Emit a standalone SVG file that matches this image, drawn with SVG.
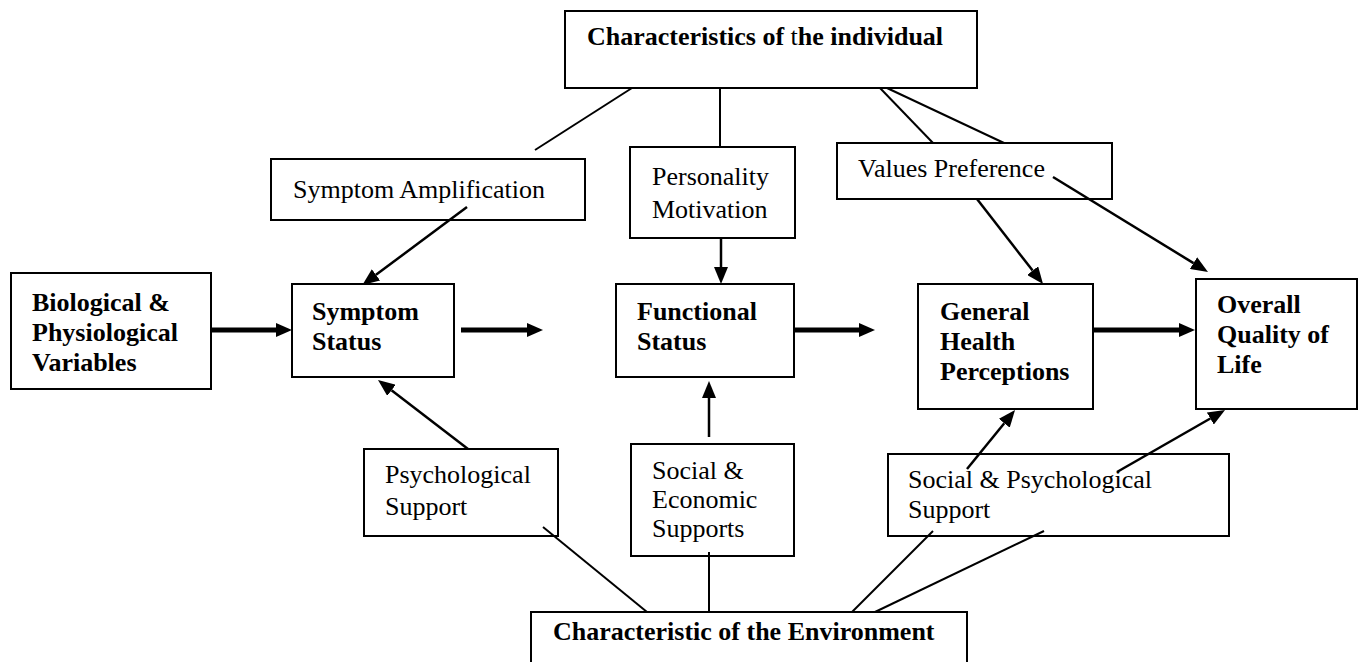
<svg xmlns="http://www.w3.org/2000/svg" width="1364" height="662" viewBox="0 0 1364 662">
<style>
.box{fill:#fff;stroke:#000;stroke-width:2}
.t{font-family:"Liberation Serif","Times New Roman",serif;font-size:26px;fill:#000}
.b{font-weight:bold}
.ln{stroke:#000;stroke-width:2;fill:none}
.ar{stroke:#000;stroke-width:2.5;fill:none;marker-end:url(#ah)}
.tk{stroke:#000;stroke-width:5;fill:none;marker-end:url(#th)}
</style>
<defs>
<marker id="ah" markerUnits="userSpaceOnUse" viewBox="0 0 17 14" refX="0" refY="7" markerWidth="17" markerHeight="14" orient="auto">
<path d="M0,0 L17,7 L0,14 z" fill="#000"/>
</marker>
<marker id="th" markerUnits="userSpaceOnUse" viewBox="0 0 16 16" refX="0" refY="8" markerWidth="16" markerHeight="16" orient="auto">
<path d="M0,1 L16,8 L0,15 z" fill="#000"/>
</marker>
</defs>
<rect width="1364" height="662" fill="#fff"/>
<g id="individual">
<rect class="box" x="565" y="11" width="412" height="77"/>
<text class="t b" x="587" y="45">Characteristics of <tspan font-weight="normal">t</tspan>he individual</text>
</g>
<g id="symptom-amplification">
<rect class="box" x="271" y="159" width="314" height="61"/>
<text class="t" x="293" y="198">Symptom Amplification</text>
</g>
<g id="personality">
<rect class="box" x="630" y="147" width="165" height="91"/>
<text class="t" x="652" y="185">Personality</text>
<text class="t" x="652" y="218">Motivation</text>
</g>
<g id="values">
<rect class="box" x="837" y="143" width="275" height="56"/>
<text class="t" x="858" y="177">Values Preference</text>
</g>
<g id="biological">
<rect class="box" x="11" y="273" width="200" height="116"/>
<text class="t b" x="32" y="311">Biological &amp;</text>
<text class="t b" x="32" y="341">Physiological</text>
<text class="t b" x="32" y="371">Variables</text>
</g>
<g id="symptom-status">
<rect class="box" x="292" y="284" width="162" height="93"/>
<text class="t b" x="312" y="320">Symptom</text>
<text class="t b" x="312" y="350">Status</text>
</g>
<g id="functional-status">
<rect class="box" x="616" y="284" width="178" height="93"/>
<text class="t b" x="637" y="320">Functional</text>
<text class="t b" x="637" y="350">Status</text>
</g>
<g id="general-health">
<rect class="box" x="918" y="284" width="175" height="125"/>
<text class="t b" x="940" y="320">General</text>
<text class="t b" x="940" y="350">Health</text>
<text class="t b" x="940" y="380">Perceptions</text>
</g>
<g id="overall-qol">
<rect class="box" x="1196" y="279" width="161" height="130"/>
<text class="t b" x="1217" y="313">Overall</text>
<text class="t b" x="1217" y="343">Quality of</text>
<text class="t b" x="1217" y="373">Life</text>
</g>
<g id="psychological-support">
<rect class="box" x="364" y="449" width="194" height="87"/>
<text class="t" x="385" y="483">Psychological</text>
<text class="t" x="385" y="515">Support</text>
</g>
<g id="social-economic">
<rect class="box" x="631" y="444" width="163" height="112"/>
<text class="t" x="652" y="479">Social &amp;</text>
<text class="t" x="652" y="508">Economic</text>
<text class="t" x="652" y="537">Supports</text>
</g>
<g id="social-psychological">
<rect class="box" x="888" y="454" width="341" height="82"/>
<text class="t" x="908" y="488">Social &amp; Psychological</text>
<text class="t" x="908" y="518">Support</text>
</g>
<g id="environment">
<rect class="box" x="531" y="612" width="436" height="60"/>
<text class="t b" x="553" y="640">Characteristic of the Environment</text>
</g>
<g id="connectors">
<line class="ln" x1="632" y1="88" x2="535" y2="150"/>
<line class="ln" x1="720" y1="88" x2="720" y2="147"/>
<line class="ln" x1="880" y1="88" x2="933" y2="143"/>
<line class="ln" x1="887" y1="88" x2="1004" y2="143"/>
<line class="ln" x1="543" y1="527" x2="647" y2="612"/>
<line class="ln" x1="709" y1="552" x2="709" y2="612"/>
<line class="ln" x1="933" y1="531" x2="852" y2="612"/>
<line class="ln" x1="1044" y1="531" x2="875" y2="612"/>
<line class="ar" x1="467" y1="207" x2="376" y2="274.8"/>
<line class="ar" x1="721" y1="238" x2="721" y2="267"/>
<line class="ar" x1="977" y1="199" x2="1032.6" y2="270.6"/>
<line class="ar" x1="1053" y1="177" x2="1193.5" y2="263.1"/>
<line class="ar" x1="468" y1="449" x2="391.5" y2="390.3"/>
<line class="ar" x1="709" y1="437" x2="709" y2="398"/>
<line class="ar" x1="967" y1="469" x2="1004.3" y2="423.2"/>
<line class="ar" x1="1117" y1="472" x2="1210.3" y2="418.5"/>
<line class="tk" x1="211" y1="330" x2="276" y2="330"/>
<line class="tk" x1="461" y1="330" x2="527" y2="330"/>
<line class="tk" x1="794" y1="330" x2="859" y2="330"/>
<line class="tk" x1="1093" y1="330" x2="1179" y2="330"/>
</g>
</svg>
